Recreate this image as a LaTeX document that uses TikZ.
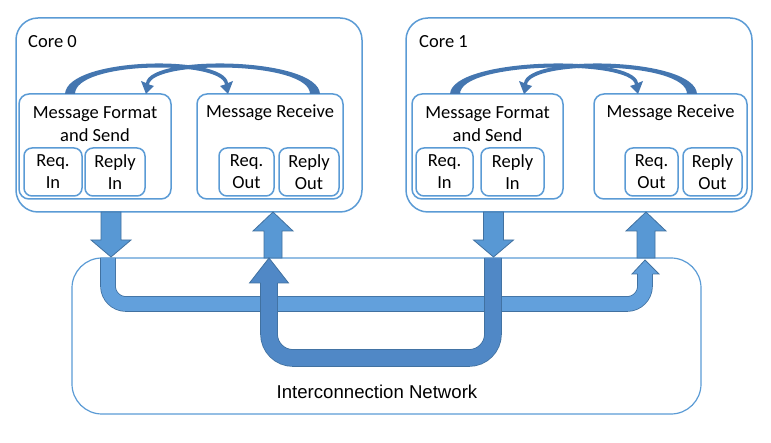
\documentclass[tikz,border=0pt]{standalone}
\usepackage{fontspec}
\setmainfont{Carlito}
\newfontfamily\netfont{Liberation Sans}
\usetikzlibrary{positioning}

\definecolor{boxblue}{RGB}{91,155,213}
\definecolor{arrowfill}{RGB}{88,152,212}
\definecolor{lightpath}{RGB}{98,160,220}
\definecolor{darkpath}{RGB}{80,136,198}
\definecolor{arrowline}{RGB}{65,113,160}
\definecolor{swoopcol}{RGB}{68,118,176}

\tikzset{
  corebox/.style={draw=boxblue, line width=1.5pt, rounded corners=22pt, inner sep=0pt},
  unitbox/.style={draw=boxblue, line width=1.5pt, rounded corners=10pt, inner sep=0pt, minimum height=105pt},
  bufbox/.style={draw=boxblue, line width=1.5pt, rounded corners=8pt, inner sep=0pt, minimum height=48pt,
    align=center, font=\fontsize{18.5pt}{22pt}\selectfont},
  txt/.style={inner sep=0pt, align=center, font=\fontsize{18.5pt}{23pt}\selectfont},
  netbox/.style={draw=boxblue, line width=1.2pt, rounded corners=30pt, inner sep=0pt},
  blockarrow/.style={fill=arrowfill, draw=arrowline, line width=0.8pt, line join=miter},
  netpathA/.style={draw=arrowline, line width=0.8pt, double=lightpath, double distance=14pt, rounded corners=18pt},
  netpathB/.style={draw=arrowline, line width=0.8pt, double=darkpath, double distance=16pt, rounded corners=24pt}
}

% curved tapered arrow on top of a core: start x, tip x
\newcommand\swoop[2]{%
  \pgfmathsetmacro\dd{sign(#2-#1)}%
  \fill[swoopcol] ({#1-5*\dd},94) .. controls ({#1-3*\dd},57) and ({#2-2*\dd},54) .. ({#2+1*\dd},83)
    -- ({#2+6*\dd},81) -- ({#2+1*\dd},94) -- ({#2-7*\dd},86) -- ({#2-2*\dd},84.5)
    .. controls ({#2-5*\dd},60) and ({#1+5*\dd},61) .. ({#1+5*\dd},94) -- cycle;}

% block arrows between cores and network: x, top, tip
\newcommand\blkdown[3]{%
  \filldraw[blockarrow] ({#1-10},#2) -- ({#1+10},#2) -- ({#1+10},{#3-17}) -- ({#1+20},{#3-17})
    -- (#1,#3) -- ({#1-20},{#3-17}) -- ({#1-10},{#3-17}) -- cycle;}
\newcommand\blkup[3]{%
  \filldraw[blockarrow] ({#1-9},#2) -- ({#1+9},#2) -- ({#1+9},{#3+19}) -- ({#1+20},{#3+19})
    -- (#1,#3) -- ({#1-20},{#3+19}) -- ({#1-9},{#3+19}) -- cycle;}

\begin{document}
\begin{tikzpicture}[x=1pt, y=-1pt]
\useasboundingbox (0,0) rectangle (771,443);

% cores
\node[corebox, minimum width=346pt, minimum height=194pt] (core0) at (189,115) {};
\node[corebox, minimum width=346pt, minimum height=194pt] (core1) at (579,115) {};
\node[txt, anchor=west] (core0lbl) at (28,42) {Core 0};
\node[txt, anchor=west] (core1lbl) at (419,42) {Core 1};

% core 0 units
\node[unitbox, minimum width=152pt] (mfs0) at (95,146.5) {};
\node[unitbox, minimum width=146pt] (mr0) at (270,146.5) {};
\node[txt] (mfs0t) at (95,124.5) {Message Format\\and Send};
\node[txt] (mr0t) at (270,113) {Message Receive};
\node[bufbox, minimum width=58pt] (rqi0) at (53,172) {Req.\\In};
\node[bufbox, minimum width=60pt] (rpi0) at (115,172) {Reply\\In};
\node[bufbox, minimum width=55pt] (rqo0) at (246.5,172) {Req.\\Out};
\node[bufbox, minimum width=60pt] (rpo0) at (309,172) {Reply\\Out};

% core 1 units
\node[unitbox, minimum width=151pt] (mfs1) at (487.5,146.5) {};
\node[unitbox, minimum width=153pt] (mr1) at (670.5,146.5) {};
\node[txt] (mfs1t) at (487.5,124.5) {Message Format\\and Send};
\node[txt] (mr1t) at (670.5,113) {Message Receive};
\node[bufbox, minimum width=57pt] (rqi1) at (444.5,172) {Req.\\In};
\node[bufbox, minimum width=63pt] (rpi1) at (512.5,172) {Reply\\In};
\node[bufbox, minimum width=53pt] (rqo1) at (651.5,172) {Req.\\Out};
\node[bufbox, minimum width=59pt] (rpo1) at (712.5,172) {Reply\\Out};

% loops inside the cores
\swoop{70}{227}
\swoop{315}{147}
\swoop{455}{637}
\swoop{692}{525}

% network
\node[netbox, minimum width=629pt, minimum height=156pt] (net) at (386.5,336) {};
\node[inner sep=0pt, font=\netfont\fontsize{18.6pt}{22pt}\selectfont] (netlbl) at (377,392) {Interconnection Network};

\blkdown{111}{212}{257}
\blkup{273}{258}{212}
\blkdown{493.5}{212}{257}
\blkup{646}{258}{212}

% core 0 out -> core 1 in
\draw[netpathA] (108,258) -- (108,304) -- (645,304) -- (645,274);
\fill[lightpath] (632,274) -- (645,260) -- (659,274) -- cycle;
\draw[arrowline, line width=0.8pt] (637.5,274) -- (632,274) -- (645,260) -- (659,274) -- (652.5,274);

% core 1 out -> core 0 in
\draw[netpathB] (493,258) -- (493,358) -- (269,358) -- (269,283);
\fill[darkpath] (249.5,283) -- (269,258) -- (288.5,283) -- cycle;
\draw[arrowline, line width=0.8pt] (260.5,283) -- (249.5,283) -- (269,258) -- (288.5,283) -- (277.5,283);
\end{tikzpicture}
\end{document}
